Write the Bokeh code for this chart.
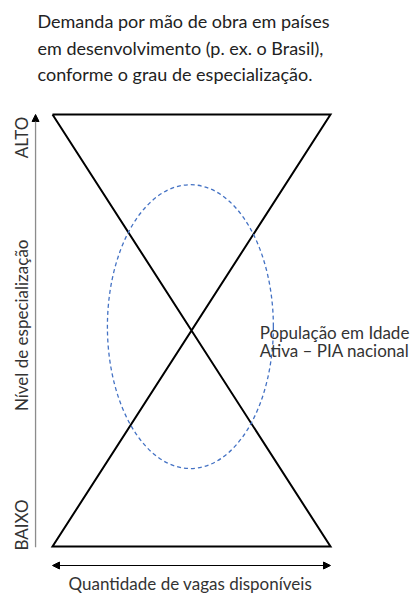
import numpy as np
from bokeh.plotting import figure
from bokeh.models import Range1d, Arrow, NormalHead
from bokeh.core.properties import value
from bokeh.embed import file_html
from bokeh.resources import INLINE

# ---- data (diagram units: x = quantity 0..1, y = specialization level 0..1)
title_lines = ["Demanda por mão de obra em países",
               "em desenvolvimento (p. ex. o Brasil),",
               "conforme o grau de especialização."]
level_labels = ["BAIXO", "ALTO"]
level_values = [0.05, 0.947]
y_axis_title = "Nível de especialização"
x_axis_title = "Quantidade de vagas disponíveis"
pia_lines = ["População em Idade", "Ativa – PIA nacional"]

# hourglass outline: top edge, diagonal, bottom edge, diagonal
hour_x = [0, 1, 0, 1, 0]
hour_y = [1, 1, 0, 0, 1]

# PIA ellipse
pia_center = (0.496, 0.509)
pia_size = (0.597, 0.657)

FONT = value("Lato")

p = figure(width=416, height=594, output_backend="svg", toolbar_location=None,
           x_range=Range1d(-0.1871, 1.3094), y_range=Range1d(-0.1111, 1.2639),
           min_border=0, outline_line_color=None)
p.axis.visible = False
p.grid.visible = False
p.background_fill_color = "white"
p.border_fill_color = "white"

# hourglass
p.line(hour_x, hour_y, line_color="black", line_width=2, line_join="miter")

# ellipse
p.ellipse(x=[pia_center[0]], y=[pia_center[1]], width=[pia_size[0]], height=[pia_size[1]],
          fill_alpha=0, line_color="#4472C4", line_width=1.3, line_dash="4 3")

# vertical axis arrow
ax_x = -0.061
p.add_layout(Arrow(x_start=ax_x, y_start=-0.002, x_end=ax_x, y_end=1.0,
                   line_color="#8c8c8c", line_width=1.3,
                   end=NormalHead(size=7, fill_color="black", line_color="black")))
# horizontal double arrow
ax_y = -0.044
p.add_layout(Arrow(x_start=0, y_start=ax_y, x_end=1, y_end=ax_y,
                   line_color="black", line_width=1,
                   start=NormalHead(size=7, fill_color="black", line_color="black"),
                   end=NormalHead(size=7, fill_color="black", line_color="black")))

# title
ty = [1.2153, 1.1551, 1.0949]
p.text(x=[-0.054] * 3, y=ty, text=title_lines, text_font=FONT,
       text_font_size="18px", text_color="#222222", text_baseline="alphabetic",
       text_align="left")

# level labels (rotated)
p.text(x=[-0.112] * 2, y=level_values, text=level_labels, text_font=FONT,
       text_font_size="17px", text_color="#333333", angle=np.pi / 2,
       text_align="center", text_baseline="middle")
p.text(x=[-0.112], y=[0.512], text=[y_axis_title], text_font=FONT,
       text_font_size="17px", text_color="#333333", angle=np.pi / 2,
       text_align="center", text_baseline="middle")

# x axis title
p.text(x=[0.496], y=[-0.0856], text=[x_axis_title], text_font=FONT,
       text_font_size="17px", text_color="#333333", text_align="center",
       text_baseline="alphabetic")

# PIA label
p.text(x=[1.0144, 1.0144], y=[0.4954, 0.4537], text=pia_lines, text_font=FONT,
       text_font_size="17px", text_color="#333333", text_align="center",
       text_baseline="alphabetic")

open("out.html", "w").write(file_html(p, INLINE))
